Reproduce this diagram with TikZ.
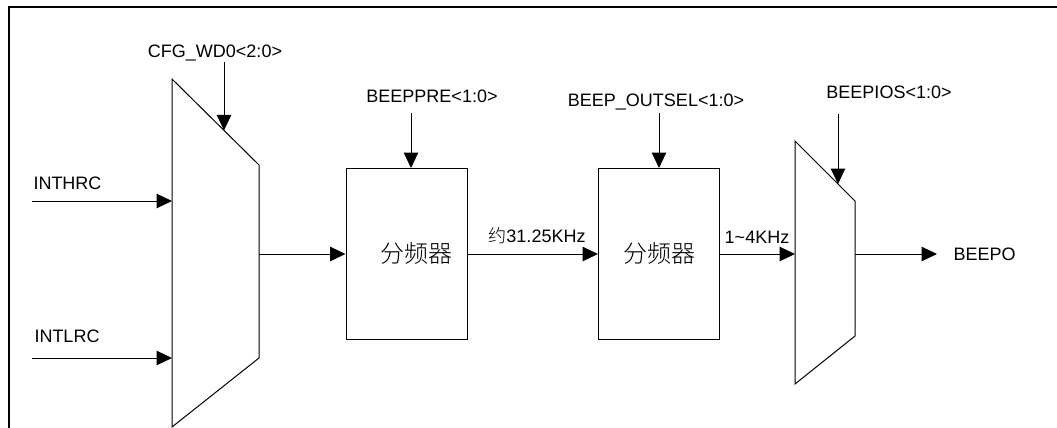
\documentclass[tikz,border=0pt]{standalone}
\usepackage{fontspec}
\setmainfont{Liberation Sans}
\newfontfamily\cjk{Noto Sans CJK SC Light}
\usetikzlibrary{arrows.meta}
\begin{document}
\begin{tikzpicture}[x=1pt,y=-1pt,line width=1pt,
  arr/.style={-{Triangle[length=15.5pt,width=14.5pt]}},
  lbl/.style={inner sep=0pt,font=\fontsize{18}{21}\selectfont},
  cjklbl/.style={inner sep=0pt,font=\cjk\fontsize{24}{28}\selectfont},
  divbox/.style={draw,minimum width=121pt,minimum height=171pt,inner sep=0pt},
  frame/.style={line width=2pt}]
\useasboundingbox (0,0) rectangle (1057,428);
% frame
\draw[frame] (9,428) -- (9,7) -- (1057,7);
% mux 1
\coordinate (m1a) at (172,79);
\coordinate (m1b) at (259,165);
\coordinate (m1c) at (259,358);
\coordinate (m1d) at (172,427);
\draw (m1a) -- (m1b) -- (m1c) -- (m1d) -- cycle;
\coordinate (m1in1) at (172,201);
\coordinate (m1in2) at (172,358);
\coordinate (m1out) at (259,254);
\coordinate (m1sel) at (224,130.4);
% inputs
\node[lbl,anchor=base west] (inthrc) at (33,189) {INTHRC};
\node[lbl,anchor=base west] (intlrc) at (34,342) {INTLRC};
\coordinate (hrcsrc) at (32,201);
\coordinate (lrcsrc) at (32,358);
\draw[arr] (hrcsrc) -- (m1in1);
\draw[arr] (lrcsrc) -- (m1in2);
% select 1
\node[lbl,anchor=base] (cfg) at (215,57) {CFG\_WD0<2:0>};
\coordinate (cfgsrc) at (224,62);
\draw[arr] (cfgsrc) -- (m1sel);
% divider boxes
\node[divbox] (b1) at (406.5,254) {};
\node[cjklbl] (t1) at (416,253) {分频器};
\node[divbox] (b2) at (659,254) {};
\node[cjklbl] (t2) at (659,253) {分频器};
\draw[arr] (m1out) -- (b1.west |- m1out);
\draw[arr] (b1.east) -- (b2.west);
\node[lbl,anchor=base] (f1) at (537,242) {{\cjk 约}31.25KHz};
% box selects
\node[lbl,anchor=base] (pre) at (432,102) {BEEPPRE<1:0>};
\coordinate (presrc) at (411,113);
\draw[arr] (presrc) -- (b1.north -| presrc);
\node[lbl,anchor=base] (osel) at (656,106) {BEEP\_OUTSEL<1:0>};
\coordinate (oselsrc) at (659,113);
\draw[arr] (oselsrc) -- (b2.north);
% mux 2
\coordinate (m2a) at (795,141);
\coordinate (m2b) at (855,201);
\coordinate (m2c) at (855,336);
\coordinate (m2d) at (795,384);
\draw (m2a) -- (m2b) -- (m2c) -- (m2d) -- cycle;
\coordinate (m2sel) at (838,184);
\coordinate (m2out) at (855,254);
\draw[arr] (b2.east) -- (b2.east -| m2a);
\node[lbl,anchor=base] (f2) at (757,243) {1\textasciitilde4KHz};
\node[lbl,anchor=base] (ios) at (889,98) {BEEPIOS<1:0>};
\coordinate (iossrc) at (838,114);
\draw[arr] (iossrc) -- (m2sel);
% output
\node[lbl,anchor=base west] (beepo) at (953,260) {BEEPO};
\coordinate (beepotip) at (937,254);
\draw[arr] (m2out) -- (beepotip);
\end{tikzpicture}
\end{document}
